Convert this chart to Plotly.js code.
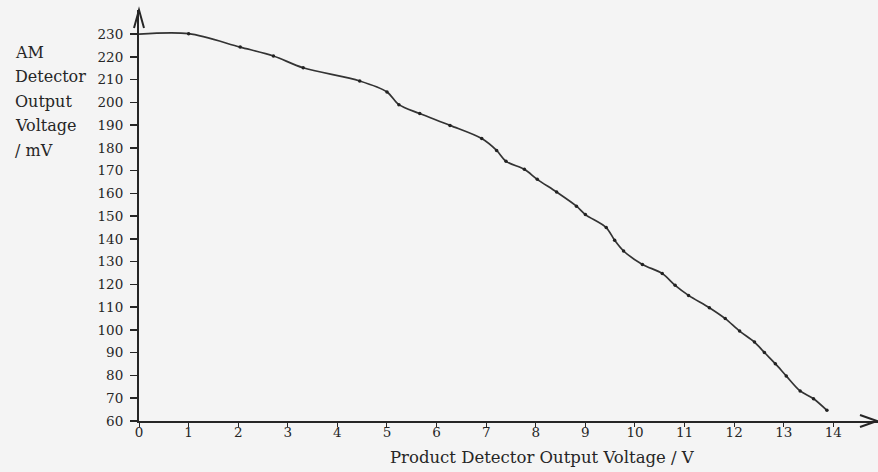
<!DOCTYPE html>
<html>
<head>
<meta charset="utf-8">
<script src="https://cdn.plot.ly/plotly-3.0.1.min.js"></script>
<style>
html,body{margin:0;padding:0;background:#f4f4f4;}
#chart{width:878px;height:472px;}
</style>
</head>
<body>
<div id="chart"></div>
<script>
// Curve (starts at origin of y-axis, then through measured points)
const voltageV = [0, 1.0, 2.04, 2.71, 3.31, 4.45, 5.0, 5.24, 5.66, 6.27, 6.91, 7.21, 7.40, 7.77, 8.03, 8.42, 8.82, 9.0, 9.42, 9.59, 9.77, 10.15, 10.55, 10.81, 11.08, 11.5, 11.82, 12.11, 12.41, 12.61, 12.83, 13.05, 13.33, 13.6, 13.87];
const amMv     = [230, 230.2, 224.3, 220.4, 215.2, 209.4, 204.6, 199.0, 195.1, 189.9, 184.1, 178.9, 174.1, 170.6, 166.2, 160.6, 154.4, 150.7, 145.0, 139.4, 134.7, 128.8, 124.8, 119.6, 115.2, 109.8, 105.0, 99.5, 94.7, 90.1, 85.2, 79.8, 73.2, 69.8, 64.7];
const xTicks = [0,1,2,3,4,5,6,7,8,9,10,11,12,13,14];
const yTicks = [60,70,80,90,100,110,120,130,140,150,160,170,180,190,200,210,220,230];
const yTitleLines = ['AM', 'Detector', 'Output', 'Voltage', '/ mV'];
const xTitle = 'Product Detector Output Voltage / V';

const ink = '#262626';
const font = 'DejaVu Serif, Liberation Serif, serif';

const curve = {
  x: voltageV, y: amMv, mode: 'lines', type: 'scatter',
  line: {color: '#333', width: 1.7, shape: 'spline', smoothing: 0.9},
  hoverinfo: 'skip', showlegend: false
};
const pts = {
  x: voltageV.slice(1), y: amMv.slice(1), mode: 'markers', type: 'scatter',
  marker: {color: '#222', size: 3.5},
  showlegend: false
};

const W = 878 - 139, H = 472 - 10 - 51;
const annotations = yTitleLines.map((t, i) => ({
  xref: 'paper', yref: 'paper', x: (13 - 139) / W, y: 1,
  xanchor: 'left', yanchor: 'middle', showarrow: false,
  yshift: -(42 + i * 24.5),
  text: t, font: {family: font, size: 16, color: ink}
}));
annotations.push({
  xref: 'paper', yref: 'paper', x: (542 - 139) / W, y: 0,
  xanchor: 'center', yanchor: 'middle', showarrow: false,
  yshift: -36,
  text: xTitle, font: {family: font, size: 16.5, color: ink}
});

const layout = {
  width: 878, height: 472,
  paper_bgcolor: '#f4f4f4', plot_bgcolor: '#f4f4f4',
  margin: {l: 139, r: 0, t: 10, b: 51},
  font: {family: font, color: ink, size: 14},
  xaxis: {
    range: [0, 14.9], showgrid: false, zeroline: false,
    showline: true, linecolor: ink, linewidth: 2,
    tickmode: 'array', tickvals: xTicks, ticktext: xTicks.map(String),
    ticks: 'outside', ticklen: 4, tickwidth: 1, tickcolor: ink,
    ticklabelstandoff: -6,
    tickfont: {family: font, size: 13.5, color: ink}
  },
  yaxis: {
    range: [60, 240.6], showgrid: false, zeroline: false,
    showline: true, linecolor: ink, linewidth: 2,
    tickmode: 'array', tickvals: yTicks, ticktext: yTicks.map(String),
    ticks: 'outside', ticklen: 7, tickwidth: 1.5, tickcolor: ink,
    ticklabelstandoff: 4,
    tickfont: {family: font, size: 13.5, color: ink}
  },
  annotations: annotations,
  shapes: [
    {type: 'path', xref: 'paper', yref: 'paper',
     path: `M ${-5/W} ${1-18/H} L 0 1 L ${5/W} ${1-18/H}`,
     line: {color: ink, width: 2}},
    {type: 'path', xref: 'paper', yref: 'paper',
     path: `M ${1-18/W} ${6/H} L ${1-1/W} 0 L ${1-18/W} ${-6/H}`,
     line: {color: ink, width: 2}}
  ]
};

Plotly.newPlot('chart', [curve, pts], layout, {displayModeBar: false, staticPlot: true});
</script>
</body>
</html>
